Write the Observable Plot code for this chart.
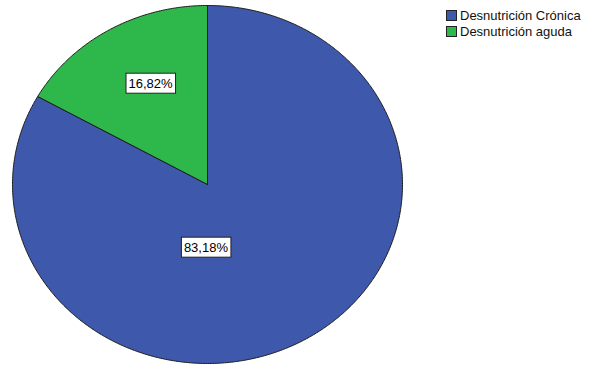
<!DOCTYPE html>
<html>
<head>
<meta charset="utf-8">
<script src="https://cdn.jsdelivr.net/npm/d3@7"></script>
<script src="https://cdn.jsdelivr.net/npm/@observablehq/plot@0.6"></script>
<style>
  html, body { margin: 0; padding: 0; background: #fff; }
  #wrap { position: relative; width: 600px; height: 373px; }
  #legend { position: absolute; left: 446px; top: 7px; font: 13px "Liberation Sans", Arial, sans-serif; color: #111; }
  #legend .row { display: flex; align-items: center; height: 16px; }
  #legend .sw { width: 11px; height: 11px; box-sizing: border-box; border: 1px solid #222; margin-right: 3px; }
</style>
</head>
<body>
<div id="wrap"><div id="legend"></div></div>
<script>
const categories = ["Desnutrición Crónica", "Desnutrición aguda"];
const values = [83.18, 16.82];
const labels = ["83,18%", "16,82%"];
const colors = ["#3e58ac", "#2eb84b"];

// label anchor positions in unit-circle coordinates
const labelPos = [[-0.008, -0.352], [-0.292, 0.564]];

const arcs = d3.pie().sort(null).value(d => d)(values);
const slices = arcs.map((a, i) => {
  const pts = [{x: 0, y: 0}];
  const n = Math.max(8, Math.ceil((a.endAngle - a.startAngle) / (Math.PI / 360)));
  for (let k = 0; k <= n; k++) {
    const t = a.startAngle + (a.endAngle - a.startAngle) * k / n;
    pts.push({x: Math.sin(t), y: Math.cos(t)});
  }
  pts.push({x: 0, y: 0});
  return pts;
});

const labelData = labels.map((t, i) => ({text: t, x: labelPos[i][0], y: labelPos[i][1]}));

const chart = Plot.plot({
  width: 600,
  height: 373,
  margin: 0,
  x: {domain: [-1, 1], range: [12, 402], axis: null},
  y: {domain: [-1, 1], range: [363, 5], axis: null},
  style: {fontFamily: "'Liberation Sans', Arial, sans-serif", background: "#fff"},
  marks: [
    ...slices.map((pts, i) => Plot.line(pts, {x: "x", y: "y", fill: colors[i], stroke: "#1c1c1c", strokeWidth: 1, curve: "linear"})),
    Plot.text(labelData, {x: "x", y: "y", text: "text", fontSize: 13, fill: "#000", className: "pielabel"})
  ]
});

document.getElementById("wrap").prepend(chart);

// draw white boxes behind labels
chart.querySelectorAll("g.pielabel text, .pielabel text").forEach(t => {
  const b = t.getBBox();
  const r = document.createElementNS("http://www.w3.org/2000/svg", "rect");
  r.setAttribute("x", b.x - 2.5);
  r.setAttribute("y", b.y - 2.5);
  r.setAttribute("width", b.width + 5);
  r.setAttribute("height", b.height + 5);
  r.setAttribute("fill", "#fff");
  r.setAttribute("stroke", "#222");
  r.setAttribute("stroke-width", 1);
  if (t.getAttribute("transform")) r.setAttribute("transform", t.getAttribute("transform"));
  t.parentNode.insertBefore(r, t);
});

const legend = document.getElementById("legend");
categories.forEach((c, i) => {
  const row = document.createElement("div");
  row.className = "row";
  const sw = document.createElement("div");
  sw.className = "sw";
  sw.style.background = colors[i];
  const lab = document.createElement("span");
  lab.textContent = c;
  row.appendChild(sw);
  row.appendChild(lab);
  legend.appendChild(row);
});
</script>
</body>
</html>
